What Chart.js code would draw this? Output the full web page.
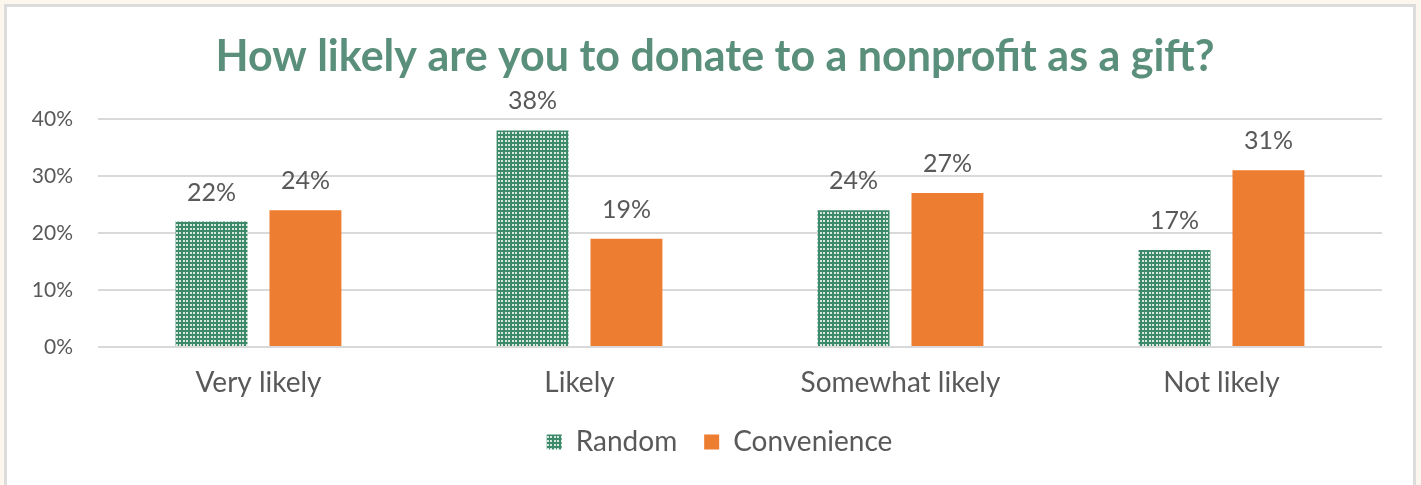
<!DOCTYPE html>
<html>
<head>
<meta charset="utf-8">
<script src="https://cdn.jsdelivr.net/npm/chart.js@4"></script>
<style>
  html, body { margin: 0; padding: 0; background: #fdf6ec; overflow: hidden; }
  #frame {
    position: absolute; left: 4px; top: 4px;
    width: 1406px; height: 490px;
    background: #ffffff;
    border: 3px solid #dcdcdc; border-bottom: none;
  }
  canvas { display: block; }
</style>
</head>
<body>
<div id="frame"><canvas id="grafico" width="1406" height="490"></canvas></div>
<script>
// dados do grafico
const titulo = 'How likely are you to donate to a nonprofit as a gift?';
const categorias = ['Very likely', 'Likely', 'Somewhat likely', 'Not likely'];
const serieRandom = [22, 38, 24, 17];
const serieConvenience = [24, 19, 27, 31];
const ticksY = [0, 10, 20, 30, 40];

const FONTE = "Lato, 'Open Sans', sans-serif";
const CINZA = '#595959';

// padrao pontilhado verde da serie Random
function criarPadrao() {
  const c = document.createElement('canvas');
  c.width = 7; c.height = 4;
  const g = c.getContext('2d');
  g.fillStyle = '#3d8a6b';
  g.fillRect(0, 0, 7, 4);
  g.fillStyle = 'rgba(255,255,255,0.8)';
  g.fillRect(1, 1, 2, 2);
  g.fillRect(4, 1, 2, 2);
  return g.createPattern(c, 'repeat');
}

const pluginTitulo = {
  id: 'tituloFixo',
  afterDraw(chart) {
    const ctx = chart.ctx;
    ctx.save();
    ctx.font = "bold 43px " + FONTE;
    ctx.fillStyle = '#5a8f7b';
    ctx.textAlign = 'center';
    ctx.textBaseline = 'alphabetic';
    ctx.fillText(titulo, 708, 64);
    ctx.restore();
  }
};

const pluginRotulos = {
  id: 'rotulos',
  afterDatasetsDraw(chart) {
    const ctx = chart.ctx;
    ctx.save();
    ctx.font = "25px " + FONTE;
    ctx.fillStyle = CINZA;
    ctx.textAlign = 'center';
    ctx.textBaseline = 'alphabetic';
    chart.data.datasets.forEach((ds, i) => {
      chart.getDatasetMeta(i).data.forEach((bar, j) => {
        ctx.fillText(ds.data[j] + '%', bar.x, bar.y - 21);
      });
    });
    ctx.restore();
  }
};

// a legenda centraliza com o espaco final incluido; desloca um pouco para a direita
const pluginLegenda = {
  id: 'ajusteLegenda',
  afterLayout(chart) {
    if (chart.legend) {
      chart.legend.left += 25;
      chart.legend.right += 25;
    }
  }
};

const padrao = criarPadrao();

new Chart(document.getElementById('grafico'), {
  type: 'bar',
  data: {
    labels: categorias,
    datasets: [
      { label: 'Random', data: serieRandom, backgroundColor: padrao, borderWidth: 0 },
      { label: 'Convenience', data: serieConvenience, backgroundColor: '#ed7d31', borderWidth: 0 }
    ]
  },
  options: {
    responsive: false,
    animation: false,
    categoryPercentage: 0.585,
    barPercentage: 0.766,
    layout: { padding: { top: 112, right: 31, bottom: 31, left: 0 } },
    plugins: {
      title: { display: false },
      tooltip: { enabled: false },
      legend: {
        position: 'bottom',
        labels: {
          font: { family: FONTE, size: 28 },
          color: CINZA,
          boxWidth: 15,
          boxHeight: 15,
          padding: 27
        }
      }
    },
    scales: {
      x: {
        afterFit(scale) { scale.height = 54; },
        grid: { display: false, drawTicks: false },
        border: { display: false },
        ticks: { font: { family: FONTE, size: 28 }, color: CINZA, padding: 19 }
      },
      y: {
        min: 0, max: 40,
        afterFit(scale) { scale.width = 91; },
        afterBuildTicks(scale) { scale.ticks = ticksY.map(v => ({ value: v })); },
        grid: { color: '#d9d9d9', lineWidth: 2, drawTicks: false },
        border: { display: false },
        ticks: {
          font: { family: FONTE, size: 21 }, color: CINZA, padding: 25,
          callback: v => v + '%'
        }
      }
    }
  },
  plugins: [pluginTitulo, pluginRotulos, pluginLegenda]
});
</script>
</body>
</html>
